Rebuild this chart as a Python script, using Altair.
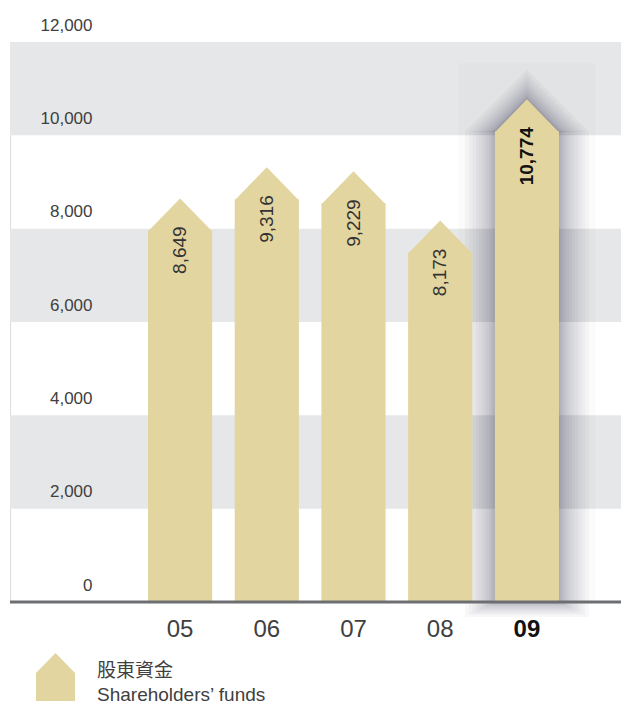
import altair as alt
import pandas as pd

# ---- data ----
years = ["05", "06", "07", "08", "09"]
values = [8649, 9316, 9229, 8173, 10774]
series_name = "Shareholders’ funds"
legend_lines = ["股東資金", "Shareholders’ funds"]
y_ticks = [0, 2000, 4000, 6000, 8000, 10000, 12000]
band_starts = [2000, 6000, 10000]
band_ends = [4000, 8000, 12000]
highlight_year = "09"

df = pd.DataFrame({"year": years, "value": values, "series": [series_name] * len(years)})
bands = pd.DataFrame({"y0": band_starts, "y1": band_ends})
hl = df[df["year"] == highlight_year]
rest = df[df["year"] != highlight_year]

# ---- style ----
FONT = "Liberation Sans, Helvetica, Arial, Noto Sans CJK TC"
TAN = "#e3d5a0"
BAND = "#e6e7e8"
TEXT = "#404040"
SHADOW = "#1e2430"
W, H = 611, 560
ROOF = 32  # roof height in px (half of bar width)

xscale = alt.Scale(domain=years, range=[138, 549], paddingInner=0.26, paddingOuter=0)
yscale = alt.Scale(domain=[0, 12000], nice=False, zero=True)

xaxis = alt.Axis(
    title=None, domain=False, ticks=False, grid=False, labelAngle=0,
    labelPadding=15, labelFontSize=24, labelFont=FONT,
    labelColor={"expr": "datum.value === '09' ? '#111111' : '#404040'"},
    labelFontWeight={"expr": "datum.value === '09' ? 'bold' : 'normal'"},
)
yaxis = alt.Axis(
    title=None, values=y_ticks, labelExpr="format(datum.value, ',')",
    domain=False, ticks=False, tickSize=0,
    grid=False, labelPadding=-82, labelAlign="right", labelBaseline="middle",
    labelOffset=-17, labelFontSize=17, labelFont=FONT, labelColor=TEXT, zindex=1,
)

X = alt.X("year:N", scale=xscale, axis=xaxis)
Yv = alt.Y("value:Q", scale=yscale, axis=yaxis)

# background bands
band_layer = alt.Chart(bands).mark_rect(color=BAND).encode(
    y=alt.Y("y0:Q", scale=yscale, axis=yaxis),
    y2="y1:Q",
    x=alt.value(0),
    x2=alt.value(W),
)

# highlight box behind the focus bar
hl_box = alt.Chart(hl).mark_bar(size=137, color=SHADOW, opacity=0.02, yOffset=-36).encode(
    x=X, y=Yv, y2=alt.datum(0)
)

# soft shadow around the focus bar
shadow_layers = []
N = 14
for k in range(1, N + 1):
    d = 30 * (k / N) ** 1.9
    w = 64 + 2 * d
    shadow_layers.append(
        alt.Chart(hl).mark_bar(size=w, color=SHADOW, opacity=0.032,
                               yOffset=ROOF, y2Offset=0.5 * d).encode(
            x=X, y=Yv, y2=alt.datum(0))
    )
    shadow_layers.append(
        alt.Chart(hl).mark_point(shape="M-1,1L0,0L1,1Z", size=w * w, filled=True,
                                 color=SHADOW, opacity=0.032, strokeWidth=0,
                                 yOffset=-d).encode(x=X, y=Yv)
    )

# bars (body + roof)
bodies = alt.Chart(df).mark_bar(yOffset=ROOF, opacity=1).encode(
    x=X, y=Yv, y2=alt.datum(0),
    color=alt.Color(
        "series:N",
        scale=alt.Scale(range=[TAN]),
        legend=alt.Legend(
            title=legend_lines, titleOrient="right", titleAnchor="start",
            titleBaseline="top", titlePadding=22, titleLineHeight=24,
            titleFont=FONT, titleFontSize=19, titleFontWeight="normal", titleColor=TEXT,
            titleLimit=400,
            orient="none", legendX=26, legendY=620,
            symbolType="M-1,1.21L-1,-0.43L0,-1.46L1,-0.43L1,1.21Z",
            symbolSize=1521, symbolFillColor=TAN, symbolStrokeWidth=0, symbolOpacity=1,
            labelExpr="''", labelOffset=0, labelFontSize=1,
        ),
    ),
)
roofs = alt.Chart(df).mark_point(shape="M-1,1.03L0,0L1,1.03Z", size=64 * 64, filled=True,
                                 color=TAN, opacity=1, strokeWidth=0).encode(x=X, y=Yv)

labels = alt.Chart(rest).mark_text(angle=270, align="right", baseline="middle", yOffset=28,
                                   fontSize=19, font=FONT, color="#333333").encode(
    x=X, y=Yv, text=alt.Text("value:Q", format=","),
)
labels_hl = alt.Chart(hl).mark_text(angle=270, align="right", baseline="middle", yOffset=28,
                                    fontSize=19, font=FONT, fontWeight="bold",
                                    color="#111111").encode(
    x=X, y=Yv, text=alt.Text("value:Q", format=","),
)

baseline = alt.Chart(hl).mark_rule(color="#6d6e71", strokeWidth=3).encode(
    y=alt.Y(datum=0, scale=yscale, axis=yaxis), x=alt.value(0), x2=alt.value(W)
)

chart = alt.layer(band_layer, hl_box, *shadow_layers, bodies, roofs, labels, labels_hl,
                  baseline).properties(
    width=W, height=H,
    padding={"left": 10, "top": 42, "right": 0, "bottom": 99},
    autosize=alt.AutoSizeParams(type="none"),
).configure_view(stroke=None).configure(background="white")

chart.save("out.html", embed_options={"renderer": "svg", "actions": False})
